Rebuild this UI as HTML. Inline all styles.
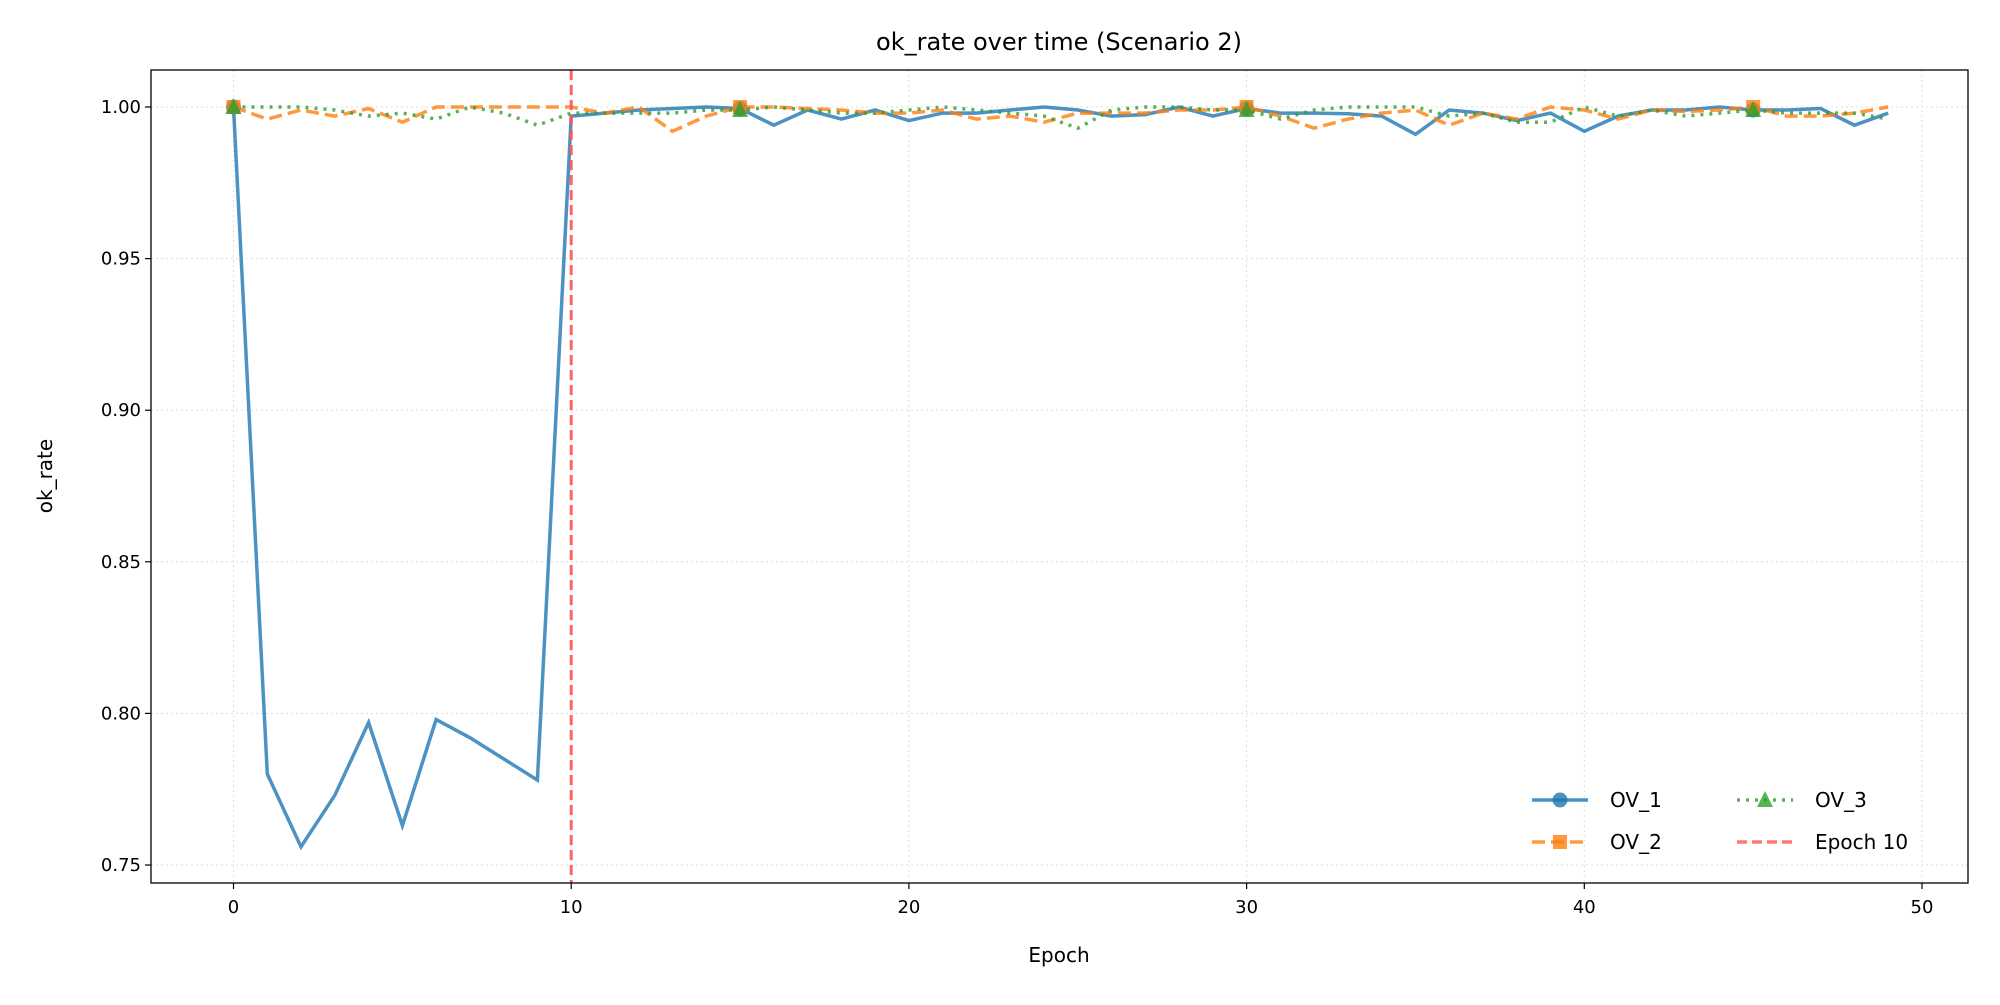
<!DOCTYPE html>
<html><head><meta charset="utf-8"><style>
body{margin:0;background:#fff;font-family:"Liberation Sans","DejaVu Sans",sans-serif}
svg text{font-family:"DejaVu Sans","Liberation Sans",sans-serif;fill:#000}
</style></head><body>
<svg id="chart" width="2000" height="1000" xmlns="http://www.w3.org/2000/svg">
<rect width="2000" height="1000" fill="#fff"/>
<g id="grid"></g><g id="series"></g><g id="axes"></g>
<text x="1059" y="50" font-size="24" text-anchor="middle">ok_rate over time (Scenario 2)</text>
<text x="1059" y="962" font-size="20" text-anchor="middle">Epoch</text>
<text x="52" y="476" font-size="20" text-anchor="middle" transform="rotate(-90 52 476)">ok_rate</text>
<g id="legend"></g>
</svg>
<script>
const xTicks=[0,10,20,30,40,50];
const yTicks=[0.75,0.80,0.85,0.90,0.95,1.00];
const yTickLabels=["0.75","0.80","0.85","0.90","0.95","1.00"];
const ov1=[1.0,0.780,0.756,0.773,0.797,0.763,0.798,0.792,0.785,0.778,0.997,0.998,0.999,0.9995,1.0,0.9995,0.994,0.999,0.996,0.999,0.9955,0.998,0.998,0.999,1.0,0.999,0.997,0.9975,1.0,0.997,0.9995,0.998,0.998,0.9978,0.997,0.991,0.999,0.998,0.9955,0.998,0.992,0.997,0.999,0.999,1.0,0.999,0.999,0.9995,0.994,0.998];
const ov2=[1.0,0.996,0.999,0.997,0.9995,0.995,1.0,1.0,1.0,1.0,1.0,0.998,1.0,0.992,0.997,1.0,1.0,0.9995,0.999,0.998,0.998,0.999,0.996,0.997,0.995,0.998,0.998,0.998,0.999,0.999,1.0,0.997,0.993,0.996,0.998,0.999,0.994,0.998,0.996,1.0,0.999,0.996,0.999,0.9985,0.999,1.0,0.997,0.997,0.998,1.0];
const ov3=[1.0,1.0,1.0,0.999,0.997,0.998,0.996,1.0,0.998,0.994,0.998,0.998,0.998,0.998,0.999,0.999,1.0,0.999,0.998,0.998,0.999,1.0,0.999,0.998,0.997,0.993,0.999,1.0,1.0,0.999,0.999,0.996,0.999,1.0,1.0,1.0,0.997,0.998,0.995,0.995,1.0,0.997,0.999,0.997,0.998,0.999,0.998,0.998,0.998,0.996];
const markerEvery=[0,15,30,45];
const vline=10;
const L=151,R=1968,T=70,B=883;
const X=v=>233.5+(v-0)*(1922-233.5)/50;
const Y=v=>865+(v-0.75)*(107-865)/0.25;
const NS="http://www.w3.org/2000/svg";
function mk(p,t,a){const e=document.createElementNS(NS,t);for(const k in a)e.setAttribute(k,a[k]);p.appendChild(e);return e;}
const grid=document.getElementById('grid'),axes=document.getElementById('axes'),ser=document.getElementById('series'),leg=document.getElementById('legend');
xTicks.forEach(v=>{
 const g=mk(grid,'line',{x1:X(v),x2:X(v),y1:T,y2:B,stroke:'#ddd','stroke-width':1,'stroke-dasharray':'2,3'});
 
 
 mk(axes,'line',{x1:X(v),x2:X(v),y1:B,y2:B+6,stroke:'#000','stroke-width':1.2});
 const t=mk(axes,'text',{x:X(v),y:B+30,'font-size':18,'text-anchor':'middle'});t.textContent=v;
 
 
});
yTicks.forEach((v,i)=>{
 const g=mk(grid,'line',{x1:L,x2:R,y1:Y(v),y2:Y(v),stroke:'#ddd','stroke-width':1,'stroke-dasharray':'2,3'});
 
 
 mk(axes,'line',{x1:L-6,x2:L,y1:Y(v),y2:Y(v),stroke:'#000','stroke-width':1.2});
 const t=mk(axes,'text',{x:L-10,y:Y(v)+6,'font-size':18,'text-anchor':'end'});t.textContent=yTickLabels[i];
 
 
});
const fr=mk(axes,'rect',{x:L,y:T,width:R-L,height:B-T,fill:'none',stroke:'#000','stroke-width':1.3});


function path(d){return d.map((v,i)=>(i?'L':'M')+X(i).toFixed(1)+','+Y(v).toFixed(1)).join('');}
function marker(p,type,x,y,color){
 if(type==='o')return mk(p,'circle',{cx:x,cy:y,r:7,fill:color,stroke:color});
 if(type==='s')return mk(p,'rect',{x:x-7,y:y-7,width:14,height:14,fill:color});
 return mk(p,'polygon',{points:`${x},${y-9} ${x-8},${y+7} ${x+8},${y+7}`,fill:color});
}
const specs=[[ov1,'#1f77b4','','o','ov1'],[ov2,'#ff7f0e','13,6','s','ov2'],[ov3,'#2ca02c','3,6','^','ov3']];
specs.forEach(([d,c,da,m,n])=>{
 const g=mk(ser,'g',{opacity:0.8});
 
 
 const p=mk(g,'path',{d:path(d),fill:'none',stroke:c,'stroke-width':3.5,'stroke-dasharray':da});
 
 
 markerEvery.forEach(i=>{const e=marker(g,m,X(i),Y(d[i]),c);
  
  });
});
const vl=mk(ser,'line',{x1:X(vline),x2:X(vline),y1:T,y2:B,stroke:'#ff5555','stroke-width':3,'stroke-dasharray':'10,5',opacity:0.9});


const le=[[1532,800,'#1f77b4','','o','OV_1'],[1532,842,'#ff7f0e','13,6','s','OV_2'],[1737,800,'#2ca02c','3,6','^','OV_3'],[1737,842,'#ff5555','10,5','','Epoch 10']];
le.forEach(([x,y,c,da,m,lab])=>{
 const g=mk(leg,'g',{});
 
 
 mk(g,'line',{x1:x,x2:x+56,y1:y,y2:y,stroke:c,'stroke-width':3.5,'stroke-dasharray':da,opacity:0.8});
 if(m)marker(g,m,x+28,y,c).setAttribute('opacity',0.8);
 const t=mk(g,'text',{x:x+78,y:y+7,'font-size':20});t.textContent=lab;
});
</script>
</body></html>
